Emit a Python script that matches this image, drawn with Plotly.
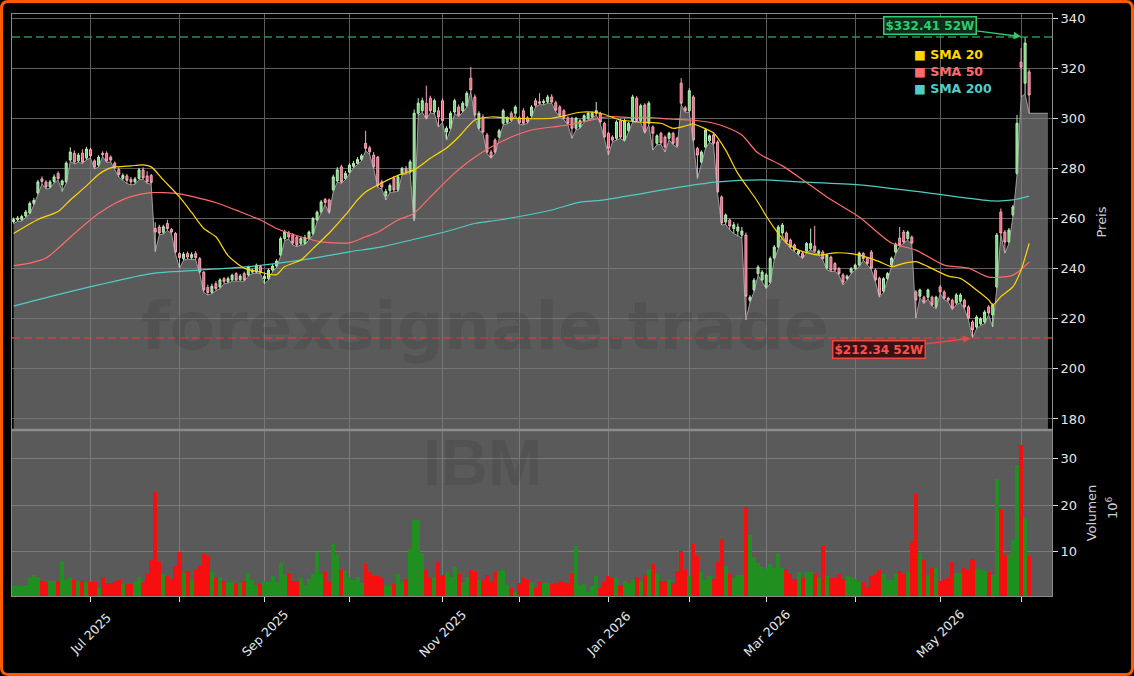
import pandas as pd
import plotly.graph_objects as go
from plotly.subplots import make_subplots

TICKER = "IBM"
WATERMARK = "forexsignale.trade"
START, END = "2025-06-03", "2026-06-03"
HOLIDAYS = ["2025-06-19", "2025-07-04", "2025-09-01", "2025-11-27", "2025-12-25",
            "2026-01-01", "2026-01-19", "2026-02-16", "2026-04-03", "2026-05-25"]

opens = [
    258.8, 259.5, 259.6, 261.0, 262.2, 266.0, 270.2, 275.8, 274.6, 272.6,
    274.8, 278.0, 273.5, 274.6, 283.3, 286.0, 283.0, 286.1, 284.1, 287.5,
    283.0, 281.3, 286.0, 286.0, 284.5, 282.1, 279.5, 276.0, 277.0, 275.6,
    274.6, 276.0, 279.4, 277.0, 277.2, 256.0, 256.6, 254.5, 258.0, 255.6,
    254.0, 246.0, 244.0, 246.0, 244.4, 246.0, 244.0, 238.6, 232.5, 230.5,
    234.0, 232.7, 236.0, 234.8, 235.5, 238.0, 235.6, 238.0, 237.5, 238.6,
    238.6, 240.8, 236.0, 236.0, 239.4, 241.0, 245.4, 252.0, 254.2, 253.5,
    252.6, 250.0, 250.0, 252.0, 254.0, 259.4, 262.6, 267.6, 267.4, 271.4,
    275.0, 280.6, 276.0, 278.5, 280.8, 282.0, 283.6, 290.0, 288.2, 285.3,
    284.5, 274.6, 269.0, 271.2, 276.0, 271.4, 278.0, 280.0, 278.5, 260.0,
    302.0, 303.0, 306.0, 308.0, 302.5, 303.0, 307.0, 294.5, 296.0, 302.5,
    304.5, 303.0, 305.0, 316.0, 308.5, 296.0, 300.5, 293.3, 286.5, 291.3,
    292.5, 298.0, 298.4, 302.0, 302.0, 300.2, 303.0, 300.2, 301.0, 307.0,
    306.6, 306.2, 306.5, 308.5, 306.2, 304.5, 303.0, 300.2, 300.0, 296.0,
    296.5, 299.0, 300.0, 300.5, 302.0, 302.0, 298.0, 294.0, 292.5, 292.0,
    299.0, 291.3, 295.0, 299.0, 308.0, 299.0, 305.3, 298.0, 296.5, 290.0,
    294.0, 292.5, 292.0, 294.0, 292.0, 314.0, 304.2, 303.0, 308.5, 288.0,
    282.5, 288.5, 291.0, 293.3, 290.5, 268.6, 258.6, 259.4, 256.0, 255.0,
    253.4, 253.4, 227.4, 231.5, 238.0, 235.5, 232.7, 234.6, 244.2, 248.6,
    254.2, 254.2, 251.4, 249.4, 246.0, 246.2, 247.0, 248.0, 249.0, 246.0,
    246.6, 240.2, 244.6, 242.0, 240.0, 237.5, 236.0, 238.6, 240.0, 241.4,
    246.0, 244.0, 246.6, 239.4, 236.2, 231.0, 236.0, 241.4, 246.6, 252.2,
    254.6, 252.0, 252.6, 230.7, 229.0, 228.6, 228.6, 228.6, 224.7, 232.7,
    230.7, 228.2, 227.4, 226.3, 227.0, 227.4, 224.7, 218.7, 216.7, 218.0,
    218.7, 224.7, 221.5, 232.7, 262.6, 254.6, 250.6, 261.4, 278.0, 322.4,
    314.0, 318.5]

highs = [
    260.4, 261.0, 261.5, 263.4, 266.8, 268.2, 275.4, 276.8, 275.2, 275.4,
    277.6, 278.8, 275.6, 282.8, 288.4, 287.2, 286.2, 287.6, 288.6, 288.2,
    283.6, 285.2, 286.8, 286.8, 285.2, 282.8, 280.4, 278.0, 277.8, 276.6,
    276.6, 280.2, 280.4, 278.8, 277.8, 258.5, 257.5, 257.5, 259.5, 256.2,
    254.6, 246.6, 246.6, 246.8, 246.5, 247.0, 244.6, 239.0, 233.6, 234.0,
    235.0, 236.2, 236.6, 236.8, 238.0, 238.6, 237.8, 238.8, 241.2, 240.0,
    242.0, 241.2, 238.4, 240.0, 241.8, 243.8, 252.8, 255.5, 255.0, 254.2,
    253.0, 252.8, 253.4, 255.2, 260.6, 263.2, 267.4, 268.2, 268.0, 277.5,
    280.5, 281.5, 279.0, 282.0, 283.0, 284.5, 285.8, 295.0, 289.0, 286.5,
    285.0, 275.5, 271.8, 274.0, 277.0, 277.2, 280.6, 281.0, 283.5, 303.5,
    308.0, 308.2, 313.0, 309.0, 307.8, 304.5, 308.0, 296.8, 302.8, 307.8,
    305.5, 306.8, 310.8, 320.5, 309.5, 302.8, 301.5, 294.2, 287.4, 292.0,
    295.8, 303.8, 300.8, 302.8, 305.2, 301.0, 304.0, 300.8, 305.2, 308.0,
    310.0, 307.6, 309.4, 309.6, 307.0, 305.2, 303.6, 300.8, 300.6, 300.6,
    299.6, 301.6, 302.6, 302.6, 306.5, 302.6, 298.6, 294.6, 293.2, 299.2,
    299.8, 299.8, 298.6, 309.4, 308.8, 305.8, 306.0, 306.8, 297.2, 293.6,
    294.6, 293.2, 294.6, 294.6, 292.6, 316.0, 305.0, 312.0, 309.2, 288.6,
    287.2, 296.0, 293.6, 294.0, 291.2, 269.2, 262.0, 260.0, 258.6, 258.0,
    256.6, 254.4, 229.4, 236.2, 241.4, 239.4, 238.2, 244.8, 249.4, 257.4,
    258.2, 254.8, 252.0, 250.0, 247.6, 246.8, 250.6, 256.0, 257.0, 247.6,
    247.4, 245.8, 245.2, 242.6, 240.6, 238.2, 237.6, 240.6, 242.0, 246.8,
    246.6, 244.6, 247.4, 240.0, 236.8, 236.6, 238.6, 244.8, 250.4, 256.6,
    255.4, 255.2, 253.2, 231.4, 232.0, 229.2, 232.0, 229.2, 229.2, 233.4,
    231.4, 228.8, 228.0, 230.2, 230.2, 228.0, 225.4, 219.4, 221.4, 220.6,
    223.4, 225.4, 226.2, 254.2, 264.0, 255.4, 256.2, 265.4, 301.3, 328.0,
    332.41, 319.5]

lows = [
    258.0, 258.9, 259.0, 260.5, 261.8, 265.4, 269.6, 273.8, 271.8, 272.0,
    274.2, 275.4, 270.8, 274.0, 282.8, 281.8, 282.4, 282.0, 283.4, 284.2,
    279.8, 280.6, 284.8, 282.4, 282.6, 279.8, 276.5, 275.2, 274.0, 273.4,
    273.6, 275.5, 275.6, 274.0, 273.8, 246.8, 253.5, 253.8, 255.2, 254.0,
    246.0, 240.2, 243.4, 243.8, 243.6, 243.6, 238.0, 230.5, 229.5, 230.0,
    231.2, 232.0, 234.0, 234.2, 235.0, 235.0, 235.0, 235.0, 237.0, 238.0,
    238.2, 238.0, 234.0, 235.5, 238.8, 240.4, 245.0, 251.2, 251.8, 249.4,
    248.8, 249.4, 249.6, 251.5, 253.4, 258.8, 262.0, 265.6, 262.0, 270.8,
    274.6, 274.0, 275.5, 278.0, 280.2, 281.5, 283.0, 287.0, 285.6, 280.0,
    272.4, 271.8, 267.4, 270.4, 270.6, 270.8, 277.4, 277.6, 278.0, 259.0,
    301.0, 302.4, 299.6, 302.2, 301.8, 296.5, 298.4, 291.3, 295.5, 302.0,
    300.6, 302.4, 304.4, 310.6, 300.6, 295.4, 294.0, 286.0, 284.0, 286.0,
    292.0, 297.4, 297.8, 298.6, 301.4, 297.6, 297.4, 298.0, 300.4, 304.6,
    305.4, 305.4, 306.0, 306.0, 302.6, 300.6, 299.4, 297.4, 292.0, 295.4,
    296.0, 298.4, 299.4, 300.0, 301.4, 298.0, 292.0, 285.3, 290.6, 291.4,
    292.0, 290.8, 294.4, 298.4, 298.4, 298.4, 294.0, 297.4, 287.3, 289.4,
    289.6, 286.5, 291.4, 289.4, 288.4, 305.4, 302.4, 302.4, 290.6, 276.0,
    281.8, 288.0, 290.4, 289.4, 270.0, 257.4, 257.6, 255.5, 254.0, 253.0,
    252.2, 219.5, 226.6, 230.8, 237.4, 234.8, 232.0, 234.0, 243.6, 248.0,
    253.6, 250.0, 248.0, 246.8, 245.4, 244.0, 246.4, 247.4, 246.4, 245.4,
    243.4, 239.6, 238.8, 239.0, 237.4, 233.5, 235.4, 238.0, 239.4, 240.8,
    243.4, 241.4, 239.6, 234.8, 228.6, 230.4, 235.4, 240.8, 246.0, 248.8,
    250.0, 251.4, 249.6, 220.3, 228.4, 226.0, 228.0, 225.0, 224.0, 230.0,
    227.6, 226.8, 223.6, 225.6, 226.4, 224.0, 219.6, 212.34, 216.0, 217.4,
    218.0, 221.6, 216.7, 232.0, 253.6, 246.2, 250.0, 260.8, 277.4, 308.5,
    309.7, 302.0]

closes = [
    259.6, 260.2, 260.8, 262.6, 266.0, 267.2, 274.6, 274.8, 272.6, 274.6,
    276.6, 276.0, 275.0, 282.1, 286.5, 282.5, 285.3, 282.5, 287.7, 285.0,
    280.5, 284.5, 285.5, 283.0, 283.3, 280.5, 277.6, 277.2, 275.2, 274.6,
    275.8, 279.4, 276.2, 274.6, 274.4, 254.6, 254.2, 256.7, 256.0, 254.6,
    246.6, 244.4, 245.8, 244.6, 245.6, 244.4, 238.6, 231.5, 230.5, 233.0,
    232.0, 235.5, 234.8, 236.0, 237.4, 235.5, 237.0, 235.5, 240.6, 239.4,
    241.4, 238.6, 237.0, 239.4, 241.0, 243.0, 252.0, 254.6, 252.6, 250.2,
    249.4, 252.0, 252.4, 254.6, 260.0, 262.5, 266.6, 266.4, 262.6, 276.6,
    279.4, 274.6, 278.0, 281.3, 282.0, 283.5, 285.0, 288.0, 286.6, 280.6,
    273.0, 272.6, 270.8, 273.2, 271.4, 276.6, 280.0, 278.5, 282.6, 302.0,
    306.0, 307.0, 300.2, 303.0, 307.0, 300.5, 299.0, 296.0, 302.0, 307.0,
    301.3, 306.0, 310.0, 311.3, 301.3, 302.0, 294.5, 286.5, 284.5, 286.5,
    295.0, 303.0, 300.2, 299.2, 304.5, 298.2, 298.0, 298.6, 304.5, 305.2,
    306.0, 306.8, 308.5, 306.5, 303.2, 301.2, 300.0, 298.0, 296.0, 300.0,
    299.0, 301.0, 302.0, 302.0, 303.0, 298.5, 292.5, 288.0, 291.3, 298.5,
    292.5, 299.0, 298.0, 308.5, 299.0, 305.0, 294.5, 306.0, 294.0, 293.0,
    290.2, 288.5, 294.0, 290.0, 289.0, 306.0, 303.0, 311.0, 291.3, 285.3,
    286.5, 295.3, 293.0, 290.0, 270.6, 258.2, 261.4, 257.0, 257.5, 256.6,
    255.0, 229.0, 228.6, 235.4, 240.6, 238.6, 237.5, 244.0, 248.6, 256.6,
    257.4, 250.6, 248.6, 247.4, 247.0, 244.6, 250.0, 250.0, 247.0, 247.0,
    244.0, 245.4, 239.4, 239.5, 238.0, 234.6, 237.0, 240.0, 241.4, 246.2,
    244.0, 242.0, 240.2, 235.5, 229.5, 236.0, 238.0, 244.2, 249.8, 249.4,
    250.6, 254.6, 250.2, 227.5, 231.5, 226.7, 231.5, 225.5, 228.6, 230.7,
    228.2, 227.4, 224.3, 229.5, 229.5, 224.7, 220.3, 215.5, 220.7, 220.0,
    222.7, 222.3, 225.5, 253.4, 254.2, 250.6, 255.4, 264.6, 298.0, 320.4,
    330.0, 309.3]

volume_m = [
    2.7, 2.7, 2.7, 2.8, 4.3, 5.0, 4.6, 3.6, 3.5, 3.6,
    3.6, 3.8, 7.9, 4.0, 4.3, 4.0, 3.8, 3.8, 3.5, 3.5,
    3.4, 2.2, 4.6, 3.2, 3.2, 3.8, 4.0, 3.0, 3.1, 3.0,
    3.6, 4.6, 3.4, 5.2, 8.2, 22.9, 7.7, 5.3, 4.8, 4.1,
    7.0, 9.9, 5.4, 5.8, 4.0, 6.2, 7.0, 9.6, 9.0, 5.7,
    4.6, 4.6, 3.7, 3.5, 3.5, 3.3, 3.3, 3.7, 5.4, 4.0,
    2.8, 3.0, 3.6, 3.5, 4.7, 3.5, 7.5, 5.0, 5.4, 3.6,
    3.6, 4.3, 2.8, 4.1, 5.3, 10.0, 5.3, 5.6, 3.5, 11.7,
    9.3, 6.1, 5.9, 4.6, 4.0, 4.6, 3.2, 7.3, 5.6, 4.8,
    4.8, 4.3, 2.7, 2.7, 3.1, 5.3, 3.5, 4.1, 10.5, 16.9,
    16.9, 9.8, 6.1, 4.3, 4.6, 7.7, 5.0, 5.7, 4.6, 6.8,
    5.1, 3.2, 4.6, 6.1, 5.6, 4.0, 4.0, 5.0, 3.6, 5.6,
    5.9, 6.0, 2.8, 2.3, 1.4, 3.2, 4.3, 4.0, 3.2, 2.2,
    3.5, 3.2, 3.3, 3.0, 3.2, 3.7, 3.4, 3.2, 5.4, 11.3,
    2.8, 3.0, 1.4, 2.7, 4.8, 2.1, 3.4, 4.8, 4.4, 4.3,
    2.8, 3.6, 3.2, 3.9, 4.6, 3.6, 5.0, 6.2, 7.3, 5.2,
    3.7, 3.6, 4.0, 3.2, 5.8, 10.2, 6.1, 4.8, 11.7, 9.0,
    5.7, 4.0, 4.8, 4.1, 7.8, 12.8, 7.0, 5.1, 4.3, 4.9,
    4.9, 19.7, 13.6, 8.9, 7.6, 6.8, 6.3, 7.3, 6.5, 9.8,
    6.6, 6.3, 5.2, 4.1, 5.6, 4.4, 5.7, 5.7, 5.2, 4.4,
    11.4, 4.8, 4.4, 4.4, 5.2, 4.2, 4.8, 4.6, 4.2, 3.5,
    3.5, 2.5, 4.8, 5.3, 6.1, 5.3, 3.9, 3.9, 5.1, 5.9,
    5.3, 5.7, 12.3, 22.4, 9.8, 8.2, 5.0, 6.4, 6.4, 3.7,
    4.2, 4.4, 7.7, 5.5, 5.5, 6.6, 6.0, 8.5, 6.0, 6.1,
    5.9, 5.7, 5.0, 25.7, 19.2, 9.3, 9.2, 12.5, 28.6, 32.9,
    17.2, 9.1]

# moving averages, read at selected trading-day numbers
sma20_day = [0, 6, 11, 14, 18, 21, 24, 29, 32, 34, 37, 41, 44, 47, 50, 53, 57, 61, 63, 65, 67, 71, 74, 78,
             82, 85, 87, 90, 95, 99, 103, 107, 110, 114, 118, 123, 133, 137, 140, 145, 150, 155, 160, 163,
             166, 168, 170, 173, 176, 179, 184, 186, 189, 191, 194, 199, 203, 207, 210, 214, 217, 220, 223,
             226, 231, 234, 238, 241, 242, 244, 247, 249, 251]
sma20_val = [254.0, 259.6, 262.8, 267.4, 273.0, 277.6, 280.2, 281.0, 281.4, 280.6, 275.4, 268.6, 262.4, 256.0,
             252.7, 245.2, 240.2, 238.6, 237.8, 237.6, 240.8, 243.4, 248.0, 254.2, 261.4, 267.4, 270.6, 273.4,
             277.2, 279.4, 284.0, 288.1, 292.5, 299.3, 300.5, 300.0, 300.0, 301.3, 302.4, 302.0, 299.3, 298.5,
             298.0, 296.0, 296.9, 297.7, 296.5, 294.1, 287.3, 278.0, 266.5, 261.0, 254.0, 250.2, 247.4, 245.4,
             246.3, 246.0, 245.0, 242.8, 240.8, 242.1, 242.8, 240.8, 237.0, 236.1, 231.5, 227.5, 225.5, 228.8,
             232.8, 239.4, 250.1]
sma50_day = [0, 4, 8, 11, 16, 21, 25, 29, 34, 37, 41, 46, 51, 56, 61, 65, 68, 72, 76, 79, 83, 87, 90, 95, 99,
             103, 108, 113, 118, 123, 128, 133, 137, 142, 147, 152, 157, 162, 167, 172, 176, 180, 184, 190,
             195, 201, 209, 217, 223, 230, 236, 241, 247, 251]
sma50_val = [241.2, 242.2, 244.2, 248.1, 255.4, 262.0, 266.0, 268.7, 270.3, 270.3, 269.8, 268.0, 265.8, 262.7,
             259.4, 256.0, 254.2, 252.2, 250.7, 250.3, 250.3, 252.7, 254.5, 259.4, 262.1, 268.6, 276.6, 283.3,
             288.5, 292.5, 295.3, 296.5, 297.3, 299.0, 300.6, 300.3, 300.3, 299.7, 299.3, 298.4, 296.5, 293.3,
             286.1, 281.0, 275.5, 268.6, 260.6, 250.2, 247.4, 241.4, 240.2, 236.6, 237.4, 242.6]
sma200_day = [0, 9, 21, 34, 46, 58, 71, 83, 91, 99, 107, 114, 120, 133, 140, 145, 165, 174, 185, 194, 209,
              226, 242, 247, 251]
sma200_val = [225.0, 228.8, 233.5, 238.0, 239.4, 240.8, 243.4, 246.7, 248.7, 251.7, 254.8, 258.0, 259.4,
              263.4, 266.5, 267.2, 272.6, 274.6, 275.4, 274.6, 273.4, 270.2, 267.0, 267.4, 268.9]

# ---------------------------------------------------------------- layout geometry
W, H = 1134, 676
ML, MR, MT, MB = 12, 82, 14, 80
PW, PH = W - ML - MR, H - MT - MB
VOL_H = 166
X_RANGE = [-0.4, 256.65]


def px_x(p):
    return (p - ML) / PW


def px_y(p):
    return (H - MB - p) / PH


dates = [d for d in pd.bdate_range(START, END) if d.strftime("%Y-%m-%d") not in HOLIDAYS][:len(closes)]
n = len(closes)
xs = list(range(n))

tickvals, ticktext = [], []
for k in range(1, n):
    if dates[k].month != dates[k - 1].month:
        tickvals.append(k)
        ticktext.append(dates[k].strftime("%b %Y") if dates[k].month % 2 == 1 else "")

fig = make_subplots(rows=2, cols=1, shared_xaxes=True, vertical_spacing=0,
                    row_heights=[(PH - VOL_H) / PH, VOL_H / PH])

# area under the lows
fx = xs + [X_RANGE[1] - 1.0]
fy = lows + [lows[-1]]
fig.add_trace(go.Scatter(x=fx, y=fy, mode="lines", fill="tozeroy",
                         fillcolor="rgba(128,128,128,0.70)",
                         line=dict(color="rgba(200,200,200,0.7)", width=1),
                         hoverinfo="skip", showlegend=False), row=1, col=1)

SMA_COLORS = {"SMA 20": "#FFD700", "SMA 50": "#FF6B6B", "SMA 200": "#4ECDC4"}
for name, d, v in [("SMA 200", sma200_day, sma200_val), ("SMA 50", sma50_day, sma50_val),
                   ("SMA 20", sma20_day, sma20_val)]:
    fig.add_trace(go.Scatter(x=d, y=v, mode="lines", name=name,
                             line=dict(color=SMA_COLORS[name], width=1.2, shape="spline", smoothing=0.7),
                             showlegend=False), row=1, col=1)

fig.add_trace(go.Candlestick(x=xs, open=opens, high=highs, low=lows, close=closes,
                             increasing=dict(line=dict(color="#b9efb9", width=1), fillcolor="#72d672"),
                             decreasing=dict(line=dict(color="#f7a9ba", width=1), fillcolor="#ee5b7c"),
                             whiskerwidth=0, showlegend=False), row=1, col=1)

vol_colors = ["#1f8f1f" if c >= o else "#f50f0f" for o, c in zip(opens, closes)]
fig.add_trace(go.Bar(x=xs, y=volume_m, marker=dict(color=vol_colors, line=dict(width=0)),
                     width=1.0, showlegend=False), row=2, col=1)

# 52 week lines
hi = max(highs)
lo = min(lows)
hi_i = highs.index(hi)
lo_i = lows.index(lo)
fig.add_shape(type="line", xref="x domain", yref="y", x0=0, x1=1, y0=hi, y1=hi,
              line=dict(color="rgba(46,160,87,0.9)", width=1.5, dash="8px,4px"))
fig.add_shape(type="line", xref="x domain", yref="y", x0=0, x1=1, y0=lo, y1=lo,
              line=dict(color="rgba(220,60,60,0.9)", width=1.5, dash="8px,4px"))

fig.add_annotation(x=hi_i, y=hi, xref="x", yref="y", text=f"<b>${hi:.2f} 52W</b>",
                   showarrow=True, ax=-95, ay=-12, arrowhead=2, arrowsize=1, arrowwidth=1.5,
                   arrowcolor="#2ecc71", standoff=4,
                   font=dict(family="DejaVu Sans", size=12, color="#2ecc71"),
                   bgcolor="#0e2a18", bordercolor="#2ecc71", borderwidth=1.5, borderpad=1)
fig.add_annotation(x=lo_i, y=lo, xref="x", yref="y", text=f"<b>${lo:.2f} 52W</b>",
                   showarrow=True, ax=-94, ay=12, arrowhead=2, arrowsize=1, arrowwidth=1.5,
                   arrowcolor="#e84848", standoff=2,
                   font=dict(family="DejaVu Sans", size=12, color="#ff5050"),
                   bgcolor="#3a1010", bordercolor="#e84848", borderwidth=1.5, borderpad=1)

# watermarks
fig.add_annotation(xref="paper", yref="paper", x=px_x(485), y=px_y(326), xanchor="center",
                   yanchor="middle", text=f"<b>{WATERMARK}</b>", showarrow=False,
                   font=dict(family="DejaVu Sans", size=66, color="rgba(0,0,0,0.085)"))
fig.add_annotation(xref="paper", yref="paper", x=px_x(482), y=px_y(462), xanchor="center",
                   yanchor="middle", text=f"<b>{TICKER}</b>", showarrow=False,
                   font=dict(family="Liberation Sans", size=65, color="rgba(0,0,0,0.08)"))

# legend
for k, name in enumerate(["SMA 20", "SMA 50", "SMA 200"]):
    fig.add_annotation(xref="paper", yref="paper", x=px_x(912), y=px_y(55 + 17 * k),
                       xanchor="left", yanchor="middle", showarrow=False,
                       text=f"<b>■ {name}</b>",
                       font=dict(family="DejaVu Sans", size=12.5, color=SMA_COLORS[name]))

# date labels, centred under their ticks
for tv, tt in zip(tickvals, ticktext):
    if tt:
        fig.add_annotation(x=tv, xref="x2", yref="paper", y=px_y(633), xanchor="center",
                           yanchor="middle", textangle=-45, showarrow=False, text=tt,
                           font=dict(family="DejaVu Sans", size=12.5, color="#e6e6e6"))

# volume-axis exponent
fig.add_annotation(xref="paper", yref="paper", x=px_x(1112), y=px_y(508), xanchor="center",
                   yanchor="middle", textangle=-90, showarrow=False, text="10<sup>6</sup>",
                   font=dict(family="DejaVu Sans", size=13, color="#d0d0d0"))

# volume panel background and panel separator
fig.add_shape(type="rect", xref="x2 domain", yref="y2 domain", x0=0, x1=1, y0=0, y1=1,
              fillcolor="#5a5a5a", line=dict(width=0), layer="below")
fig.add_shape(type="line", xref="paper", yref="paper", x0=0, x1=1, y0=VOL_H / PH, y1=VOL_H / PH,
              line=dict(color="#8c8c8c", width=2.5))

# orange rounded frame
x0, y0, x1, y1, r = 1.5, 1.5, W - 1.5, H - 1.5, 7


def pt(a, b):
    return f"{px_x(a):.5f},{px_y(b):.5f}"


path = (f"M {pt(x0 + r, y0)} L {pt(x1 - r, y0)} Q {pt(x1, y0)} {pt(x1, y0 + r)} "
        f"L {pt(x1, y1 - r)} Q {pt(x1, y1)} {pt(x1 - r, y1)} L {pt(x0 + r, y1)} "
        f"Q {pt(x0, y1)} {pt(x0, y1 - r)} L {pt(x0, y0 + r)} Q {pt(x0, y0)} {pt(x0 + r, y0)} Z")
fig.add_shape(type="path", xref="paper", yref="paper", path=path,
              line=dict(color="#ff5a00", width=3), fillcolor="rgba(0,0,0,0)")

TICKFONT = dict(family="DejaVu Sans", size=13, color="#e6e6e6")
fig.update_layout(
    width=W, height=H, margin=dict(l=ML, r=MR, t=MT, b=MB),
    paper_bgcolor="black", plot_bgcolor="black",
    font=dict(family="DejaVu Sans", color="#e6e6e6"),
    showlegend=False, bargap=0,
)
fig.update_xaxes(range=X_RANGE, tickvals=tickvals, ticktext=ticktext, showline=True, mirror=True,
                 linecolor="#8c8c8c", linewidth=1, zeroline=False, rangeslider_visible=False)
fig.update_xaxes(row=1, col=1, showticklabels=False, ticks="", showgrid=True, gridcolor="#5e5e5e",
                 gridwidth=1)
fig.update_xaxes(row=2, col=1, showticklabels=False, ticks="outside", ticklen=5, tickcolor="#dddddd",
                 showgrid=True, gridcolor="#7a7a7a")
fig.update_yaxes(row=1, col=1, side="right", range=[175.6, 341.6], tickvals=list(range(180, 341, 20)),
                 ticks="outside", ticklen=5, tickcolor="#dddddd", tickfont=TICKFONT,
                 showgrid=True, gridcolor="#5e5e5e", zeroline=False, showline=True, mirror=True,
                 linecolor="#8c8c8c",
                 title=dict(text="Preis", font=dict(size=13, color="#d0d0d0"), standoff=12))
fig.update_yaxes(row=2, col=1, side="right", range=[0.47, 36.2], tickvals=[10, 20, 30],
                 ticks="outside", ticklen=5, tickcolor="#dddddd", tickfont=TICKFONT,
                 showgrid=True, gridcolor="#7a7a7a", zeroline=False, showline=True, mirror=True,
                 linecolor="#8c8c8c",
                 title=dict(text="Volumen", font=dict(size=13, color="#d0d0d0"), standoff=10))

fig.write_html("out.html")
